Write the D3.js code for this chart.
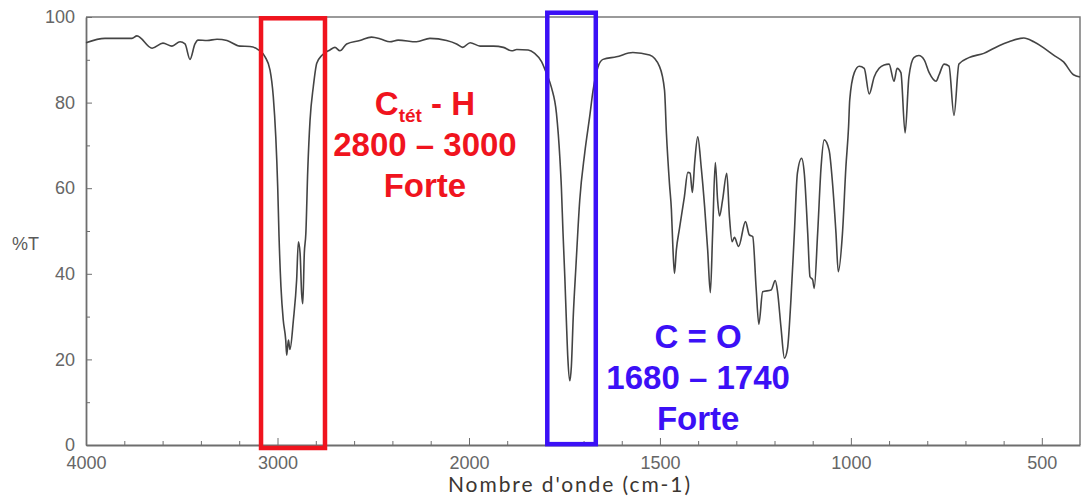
<!DOCTYPE html>
<html>
<head>
<meta charset="utf-8">
<script src="https://cdn.jsdelivr.net/npm/d3@7"></script>
<style>
  body { margin: 0; background: #fff; }
  svg { display: block; }
  .axis text { font-family: "Liberation Sans", Arial, sans-serif; font-size: 18px; fill: #666; }
  .axis path, .axis line { stroke: #6e6e6e; }
</style>
</head>
<body>
<svg class="chart"></svg>
<script>
// IR spectrum, %T vs nombre d'onde

var wavenumber = [4000, 3901, 3760, 3734, 3655, 3598, 3551, 3509, 3483, 3457, 3431, 3415, 3368, 3316, 3264,
  3196, 3144, 3102, 3065, 3039, 3022, 3009, 2999, 2992, 2982, 2970, 2957, 2952, 2943, 2935, 2917,
  2900, 2891, 2882, 2874, 2868, 2860, 2852, 2842, 2830, 2813, 2795, 2769, 2726, 2700, 2674, 2639,
  2570, 2509, 2457, 2413, 2370, 2274, 2204, 2117, 2065, 2033, 1997, 1971, 1936, 1910, 1888, 1875,
  1845, 1828, 1810, 1797, 1784, 1771, 1762, 1758, 1754, 1749, 1745, 1741, 1736, 1732, 1727, 1720,
  1710, 1697, 1684, 1675, 1662, 1649, 1614, 1571, 1527, 1501, 1488, 1483, 1475, 1470, 1466, 1462,
  1457, 1449, 1436, 1427, 1421, 1415, 1409, 1401, 1392, 1383, 1375, 1368, 1362, 1355, 1349, 1344,
  1336, 1325, 1318, 1311, 1305, 1294, 1276, 1266, 1257, 1248, 1241, 1231, 1209, 1198, 1192, 1183,
  1174, 1166, 1157, 1148, 1140, 1129, 1122, 1113, 1107, 1100, 1096, 1087, 1078, 1070, 1057, 1048,
  1039, 1033, 1022, 1013, 1006, 1003, 991, 978, 965, 952, 939, 926, 913, 900, 887, 879, 869, 858,
  848, 835, 822, 808, 795, 777, 769, 756, 743, 730, 717, 691, 652, 612, 586, 547, 521, 495, 469,
  443, 417, 400];

var transmittance = [94.0, 95.0, 95.0, 95.6, 92.7, 93.9, 93.2, 94.2, 93.7, 90.1, 93.7, 94.6, 94.5, 94.8, 94.5,
  93.2, 93.1, 92.4, 90.7, 87.6, 81.4, 72.0, 60.4, 48.7, 37.0, 29.2, 24.5, 21.0, 24.5, 22.3, 29.2,
  38.6, 47.5, 44.8, 35.4, 33.0, 44.8, 49.4, 64.2, 75.9, 83.7, 89.2, 91.0, 92.3, 92.9, 92.1, 93.7,
  94.5, 95.3, 94.8, 94.2, 94.6, 94.2, 95.0, 94.5, 93.7, 92.9, 94.0, 93.2, 93.2, 92.9, 92.1, 92.4,
  92.3, 91.5, 89.6, 86.8, 83.5, 77.5, 67, 60, 50, 39, 29, 20, 15, 18.3, 30, 41.7,
  57.2, 68.2, 76.7, 82.9, 88.4, 90.1, 90.7, 91.7, 91.1, 88.4, 82.9, 72.8, 61, 55, 46, 40.1,
  45.6, 50.5, 58, 63.7, 63.5, 59, 66, 72, 65, 55.7, 45.6, 35.6, 49.5, 66, 57.2, 53.5,
  57.2, 63.5, 53.3, 47.5, 48.5, 46.4, 52.2, 49.1, 48.7, 36.5, 28.2, 35.8, 36.2, 38.4, 35.8, 27.5,
  20.3, 22.5, 33.9, 49.5, 63.5, 67, 63.5, 49.5, 39.3, 38.6, 36.6, 49.5, 65, 71.3, 68.9, 61.1,
  49.5, 40.5, 49.5, 65, 74.4, 80.6, 87, 88.5, 88, 82, 86, 88, 88.8, 89, 85, 88, 87, 72.9,
  86, 90.5, 91, 90, 87, 85, 86.5, 89, 88.5, 77, 89, 90.5, 91.5, 93.3, 94.2, 95.1, 94.2, 92.8, 91.1,
  89.5, 86.5, 86];

var xMajor = [4000, 3000, 2000, 1500, 1000, 500];
var xMinor = [3800, 3600, 3400, 3200, 2800, 2600, 2400, 2200,
  1900, 1800, 1700, 1600, 1400, 1300, 1200, 1100, 900, 800, 700, 600];
var yMajor = [0, 20, 40, 60, 80, 100];
var yMinor = [10, 30, 50, 70, 90];

// highlighted bands: [from, to] in cm-1 and %T, label anchor in the same units
var bands = [
  {x: [3086, 2752], y: [99.7, -0.7], color: "#f0141e",
   lines: ["C|tét|- H", "2800 – 3000", "Forte"], at: [2230, 77.1]},
  {x: [1795, 1668], y: [101.0, 0.2], color: "#3b10f6",
   lines: ["C = O", "1680 – 1740", "Forte"], at: [1400, 22.7]}
];

var W = 1084, H = 499;
var margin = {top: 17, right: 4, bottom: 54, left: 86};

var x = d3.scaleLinear()
    .domain([4000, 2000, 400])
    .range([margin.left, 469, W - margin.right]);

var y = d3.scaleLinear()
    .domain([0, 100])
    .range([H - margin.bottom, margin.top]);

var svg = d3.select(".chart")
    .attr("width", W)
    .attr("height", H);

// frame top / right
svg.append("path")
    .attr("d", "M" + x(4000) + "," + y(100) + "H" + x(400) + "V" + y(0))
    .attr("fill", "none")
    .attr("stroke", "#7a7a7a")
    .attr("stroke-width", 1.5);

svg.append("g")
    .attr("class", "axis")
    .attr("transform", "translate(0," + y(0) + ")")
    .call(d3.axisBottom(x).tickValues(xMinor).tickSize(-4).tickFormat(""))
    .call(function(g) { g.select(".domain").remove(); });

svg.append("g")
    .attr("class", "axis")
    .attr("transform", "translate(0," + y(0) + ")")
    .call(d3.axisBottom(x).tickValues(xMajor).tickSizeInner(-7).tickSizeOuter(0).tickPadding(11).tickFormat(d3.format("d")))
    .call(function(g) { g.select(".domain").attr("stroke-width", 1.8); });

svg.append("g")
    .attr("class", "axis")
    .attr("transform", "translate(" + x(4000) + ",0)")
    .call(d3.axisLeft(y).tickValues(yMinor).tickSize(-4).tickFormat(""))
    .call(function(g) { g.select(".domain").remove(); });

svg.append("g")
    .attr("class", "axis")
    .attr("transform", "translate(" + x(4000) + ",0)")
    .call(d3.axisLeft(y).tickValues(yMajor).tickSizeInner(-6).tickSizeOuter(0).tickPadding(11))
    .call(function(g) { g.select(".domain").attr("stroke-width", 1.8); });

svg.append("text")
    .attr("x", 12)
    .attr("y", 250)
    .style("font-family", "Liberation Sans, Arial, sans-serif")
    .style("font-size", "18px")
    .style("fill", "#5a5a5a")
    .text("%T");

svg.append("text")
    .attr("x", 448)
    .attr("y", 492)
    .attr("textLength", 242)
    .attr("lengthAdjust", "spacing")
    .style("font-family", "Lato, Carlito, sans-serif")
    .style("font-size", "21px")
    .style("fill", "#3b3631")
    .text("Nombre d'onde (cm-1)");

var pts = wavenumber.map(function(w, i) { return [w, transmittance[i]]; });

svg.append("path")
    .datum(pts)
    .attr("fill", "none")
    .attr("stroke", "#444")
    .attr("stroke-width", 1.6)
    .attr("d", d3.line()
        .x(function(d) { return x(d[0]); })
        .y(function(d) { return y(d[1]); })
        .curve(d3.curveMonotoneX));

bands.forEach(function(b) {
  svg.append("rect")
      .attr("x", x(b.x[0]))
      .attr("y", y(b.y[0]))
      .attr("width", x(b.x[1]) - x(b.x[0]))
      .attr("height", y(b.y[1]) - y(b.y[0]))
      .attr("fill", "none")
      .attr("stroke", b.color)
      .attr("stroke-width", 4.5);

  var t = svg.append("text")
      .attr("x", x(b.at[0]))
      .attr("y", y(b.at[1]))
      .style("text-anchor", "middle")
      .style("font-family", "Liberation Sans, Arial, sans-serif")
      .style("font-weight", "bold")
      .style("font-size", "33px")
      .style("fill", b.color);

  b.lines.forEach(function(line, i) {
    var ts = t.append("tspan")
        .attr("x", x(b.at[0]))
        .attr("dy", i === 0 ? 0 : 41);
    var parts = line.split("|");
    if (parts.length === 3) {
      ts.append("tspan").text(parts[0]);
      ts.append("tspan").attr("dy", 7).style("font-size", "19px").text(parts[1]);
      ts.append("tspan").attr("dy", -7).text(" " + parts[2]);
    } else {
      ts.text(line);
    }
  });
});
</script>
</body>
</html>
